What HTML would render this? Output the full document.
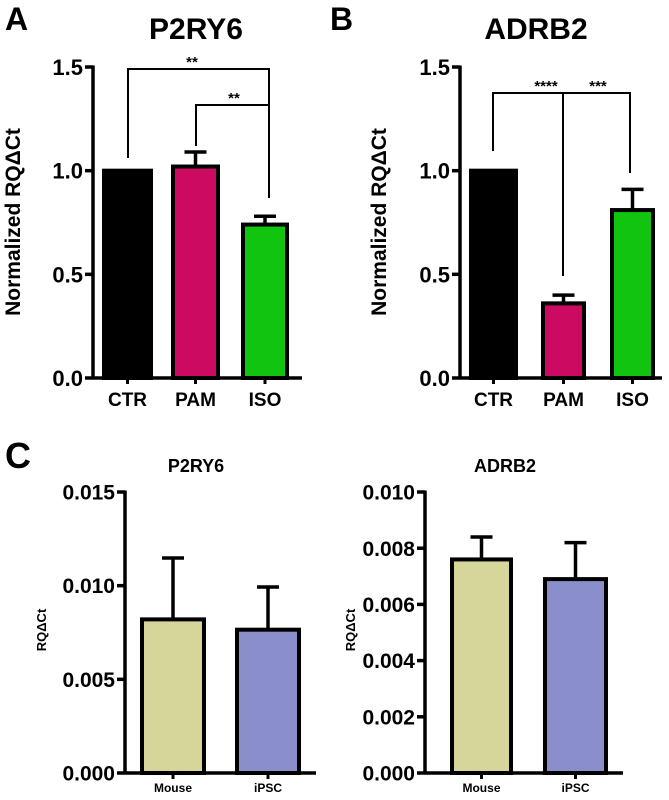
<!DOCTYPE html>
<html><head><meta charset="utf-8"><style>
html,body{margin:0;padding:0;background:#fff}
svg{display:block;font-family:"Liberation Sans",Arial,sans-serif}
</style></head><body>
<svg id="fig" width="669" height="800" viewBox="0 0 669 800">
<text x="5" y="30" font-size="32" font-weight="bold">A</text>
<text x="330" y="30" font-size="32" font-weight="bold">B</text>
<text x="5" y="468" font-size="36" font-weight="bold">C</text>
</svg>
<script>
const catsAB = ["CTR","PAM","ISO"];
const colorsAB = ["#000000","#cc0a62","#11c40f"];
const p2ry6Vals = [1.0, 1.02, 0.74];
const p2ry6Err = [0, 0.07, 0.04];
const adrb2Vals = [1.0, 0.36, 0.81];
const adrb2Err = [0, 0.04, 0.10];
const ticksAB = [0, 0.5, 1.0, 1.5];
const tickLabelsAB = ["0.0","0.5","1.0","1.5"];
const catsCD = ["Mouse","iPSC"];
const colorsCD = ["#d6d69a","#8a8fcc"];
const cP2ry6Vals = [0.0082, 0.00765];
const cP2ry6Err = [0.00328, 0.00228];
const ticksC = [0, 0.005, 0.010, 0.015];
const tickLabelsC = ["0.000","0.005","0.010","0.015"];
const cAdrb2Vals = [0.0076, 0.0069];
const cAdrb2Err = [0.0008, 0.0013];
const ticksD = [0, 0.002, 0.004, 0.006, 0.008, 0.010];
const tickLabelsD = ["0.000","0.002","0.004","0.006","0.008","0.010"];

const NS="http://www.w3.org/2000/svg";
const svg=document.getElementById('fig');
function mk(tag,attrs,parent){const e=document.createElementNS(NS,tag);for(const k in attrs)e.setAttribute(k,attrs[k]);(parent||svg).appendChild(e);return e;}

function panel(cfg){
  const g=mk('g',{});
  
  
  const y=v=>cfg.y0-(v-cfg.min)/(cfg.max-cfg.min)*(cfg.y0-cfg.y1);
  const t=mk('text',{x:cfg.titleX,y:cfg.titleY,'font-size':cfg.titleSize,'font-weight':'bold','text-anchor':'middle'},g);
  t.textContent=cfg.title;
  
  
  const yl=mk('text',{x:0,y:0,'font-size':cfg.ylSize,'font-weight':'bold','text-anchor':'middle',transform:`translate(${cfg.ylX},${cfg.ylY}) rotate(-90)`},g);
  yl.textContent=cfg.ylabel;
  
  
  cfg.vals.forEach((v,i)=>{
    const x0=cfg.bx[i][0], x1=cfg.bx[i][1], cx=(x0+x1)/2;
    const e=cfg.err[i];
    if(e>0){
      const ln=mk('line',{x1:cx,x2:cx,y1:y(v),y2:y(v+e),stroke:'#000','stroke-width':3.5},g);
      
      
      const cap=mk('line',{x1:cx-11,x2:cx+11,y1:y(v+e),y2:y(v+e),stroke:'#000','stroke-width':3.5},g);
      
      
    }
    const r=mk('rect',{x:x0+2,y:y(v),width:x1-x0-4,height:cfg.y0-y(v),fill:cfg.colors[i],stroke:'#000','stroke-width':4},g);
    
    
    const ct=mk('text',{x:cx,y:cfg.catY,'font-size':cfg.catSize,'font-weight':'bold','text-anchor':'middle'},g);
    ct.textContent=cfg.cats[i];
    
    
  });
  const ya=mk('line',{x1:cfg.ax,x2:cfg.ax,y1:y(cfg.max)-1.5,y2:cfg.y0+1.5,stroke:'#000','stroke-width':3.5},g);
  
  
  const xa=mk('line',{x1:cfg.ax,x2:cfg.axEnd,y1:cfg.y0,y2:cfg.y0,stroke:'#000','stroke-width':3.5},g);
  
  
  cfg.bx.forEach(b=>{const cx=(b[0]+b[1])/2;const tk=mk('line',{x1:cx,x2:cx,y1:cfg.y0,y2:cfg.y0+6,stroke:'#000','stroke-width':3},g);
    
    });
  cfg.ticks.forEach((tv,i)=>{
    const tk=mk('line',{x1:cfg.ax-8,x2:cfg.ax,y1:y(tv),y2:y(tv),stroke:'#000','stroke-width':3.5},g);
    
    
    const tl=mk('text',{x:cfg.ax-10,y:y(tv)+cfg.tickSize*0.36,'font-size':cfg.tickSize,'font-weight':'bold','text-anchor':'end'},g);
    tl.textContent=cfg.tickLabels[i];
    
    
  });
  return {g,y};
}

panel({name:'panel-a-p2ry6',title:'P2RY6',titleX:196,titleY:39,titleSize:30,ylabel:'Normalized RQΔCt',ylX:20,ylY:222,ylSize:21,
  y0:378,y1:67,min:0,max:1.5,ax:93,axEnd:302,bx:[[102,153],[171,220],[241,289]],vals:p2ry6Vals,err:p2ry6Err,colors:colorsAB,cats:catsAB,
  catY:406,catSize:19,ticks:ticksAB,tickLabels:tickLabelsAB,tickSize:22});
panel({name:'panel-b-adrb2',title:'ADRB2',titleX:536,titleY:39,titleSize:30,ylabel:'Normalized RQΔCt',ylX:386,ylY:222,ylSize:21,
  y0:378,y1:67,min:0,max:1.5,ax:460,axEnd:662,bx:[[469,518],[541,586],[610,655]],vals:adrb2Vals,err:adrb2Err,colors:colorsAB,cats:catsAB,
  catY:406,catSize:19,ticks:ticksAB,tickLabels:tickLabelsAB,tickSize:22});
panel({name:'panel-c-p2ry6',title:'P2RY6',titleX:196,titleY:472,titleSize:18,ylabel:'RQΔCt',ylX:46,ylY:630,ylSize:13,
  y0:773,y1:492,min:0,max:0.015,ax:125,axEnd:316,bx:[[140,206],[235,301]],vals:cP2ry6Vals,err:cP2ry6Err,colors:colorsCD,cats:catsCD,
  catY:792,catSize:12,ticks:ticksC,tickLabels:tickLabelsC,tickSize:21});
panel({name:'panel-d-adrb2',title:'ADRB2',titleX:505,titleY:472,titleSize:18,ylabel:'RQΔCt',ylX:355,ylY:630,ylSize:13,
  y0:773,y1:492,min:0,max:0.010,ax:425,axEnd:623,bx:[[450,513],[543,608]],vals:cAdrb2Vals,err:cAdrb2Err,colors:colorsCD,cats:catsCD,
  catY:792,catSize:12,ticks:ticksD,tickLabels:tickLabelsD,tickSize:21});

function bracket(pts,name){
  const p=mk('polyline',{points:pts.map(q=>q.join(',')).join(' '),fill:'none',stroke:'#000','stroke-width':2});
  
  
}
function star(x,yy,s){const t=mk('text',{x:x,y:yy,'font-size':15,'font-weight':'bold','text-anchor':'middle'});t.textContent=s;
  
  }
bracket([[128,158],[128,69],[269,69],[269,198]],'bracket-ctr-iso');
star(192,67,'**');
bracket([[196,146],[196,105],[269,105]],'bracket-pam-iso');
star(234,103,'**');
bracket([[493,151],[493,93],[630,93],[630,173]],'bracket-adrb2');
const mid=mk('line',{x1:563,x2:563,y1:93,y2:276,stroke:'#000','stroke-width':2});


star(546,91,'****');
star(598,91,'***');
</script>
</body></html>
